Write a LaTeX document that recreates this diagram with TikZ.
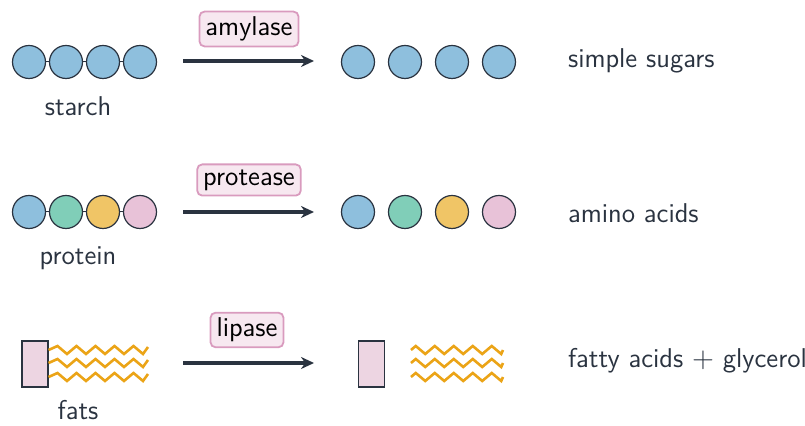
\documentclass[tikz,border=0pt]{standalone}
\usetikzlibrary{arrows.meta}
\definecolor{ink}{HTML}{2A3340}
\definecolor{cblue}{HTML}{8EBFDD}
\definecolor{cgreen}{HTML}{80CEB8}
\definecolor{cyellow}{HTML}{F0C566}
\definecolor{cpink}{HTML}{E8C2D8}
\definecolor{rpink}{HTML}{EDD5E2}
\definecolor{zz}{HTML}{EBA417}
\definecolor{eborder}{HTML}{D99BBE}
\definecolor{efill}{HTML}{F7E8F0}
\begin{document}
\begin{tikzpicture}[x=0.5pt,y=-0.5pt,
  font=\sffamily\fontsize{13.6}{15}\selectfont,
  bead/.style={circle,draw=ink,line width=0.6pt,minimum size=16.5pt,inner sep=0pt},
  blue/.style={bead,fill=cblue},
  green/.style={bead,fill=cgreen},
  yellow/.style={bead,fill=cyellow},
  pinkb/.style={bead,fill=cpink},
  head/.style={rectangle,draw=ink,line width=0.6pt,fill=rpink,minimum width=13pt,minimum height=23pt,inner sep=0pt},
  enzyme/.style={rectangle,rounded corners=2.5pt,draw=eborder,line width=0.9pt,fill=efill,inner xsep=3pt,inner ysep=2.6pt,text=black},
  lbl/.style={text=ink},
  react/.style={-{Stealth[length=6.5pt,width=6pt]},draw=ink,line width=1.6pt},
  link/.style={draw=ink,line width=0.5pt},
  tail/.style={draw=zz,line width=1.3pt,line join=miter}
]
\useasboundingbox (0,0) rectangle (805,426);
% Row 1: starch
\foreach \i/\x in {1/29,2/66,3/103,4/140}{\node[blue] (s\i) at (\x,62) {};}
\draw[link] (s1) -- (s2) (s2) -- (s3) (s3) -- (s4);
\node[lbl] (starch) at (78,106) {starch};
\coordinate (a1s) at (183,61); \coordinate (a1e) at (314,61);
\draw[react] (a1s) -- (a1e);
\node[enzyme] (amylase) at (249,29) {amylase};
\foreach \i/\x in {1/358,2/405,3/452,4/499}{\node[blue] (p\i) at (\x,62) {};}
\node[lbl,anchor=west] (sugars) at (561,61) {simple sugars};
% Row 2: protein
\node[blue] (t1) at (29,212) {};
\node[green] (t2) at (66,212) {};
\node[yellow] (t3) at (103,212) {};
\node[pinkb] (t4) at (140,212) {};
\draw[link] (t1) -- (t2) (t2) -- (t3) (t3) -- (t4);
\node[lbl] (protein) at (78,258) {protein};
\coordinate (a2s) at (183,212); \coordinate (a2e) at (314,212);
\draw[react] (a2s) -- (a2e);
\node[enzyme] (protease) at (249,180) {protease};
\node[blue] (q1) at (358,212) {};
\node[green] (q2) at (405,212) {};
\node[yellow] (q3) at (452,212) {};
\node[pinkb] (q4) at (499,212) {};
\node[lbl,anchor=west] (amino) at (561,213) {amino acids};
% Row 3: fats
\node[head] (g1) at (35,364) {};
\foreach \y in {350,363,377}{
  \draw[tail] (g1.east |- 0,\y) \foreach \k in {0,...,9}{ -- ({57.5+9.5*\k},{\y+ifthenelse(isodd(\k),4,-4)}) } -- (148,\y-3);}
\node[lbl] (fats) at (78,410) {fats};
\coordinate (a3s) at (183,363); \coordinate (a3e) at (314,363);
\draw[react] (a3s) -- (a3e);
\node[enzyme] (lipase) at (247,330) {lipase};
\node[head] (g2) at (371.5,364) {};
\foreach \y in {350,363,377}{
  \draw[tail] (411,\y) \foreach \k in {0,...,9}{ -- ({415.75+9.5*\k},{\y+ifthenelse(isodd(\k),4,-4)}) } -- (503,\y);}
\node[lbl,anchor=west] (fatty) at (561,361) {fatty acids $+$ glycerol};
\end{tikzpicture}
\end{document}
